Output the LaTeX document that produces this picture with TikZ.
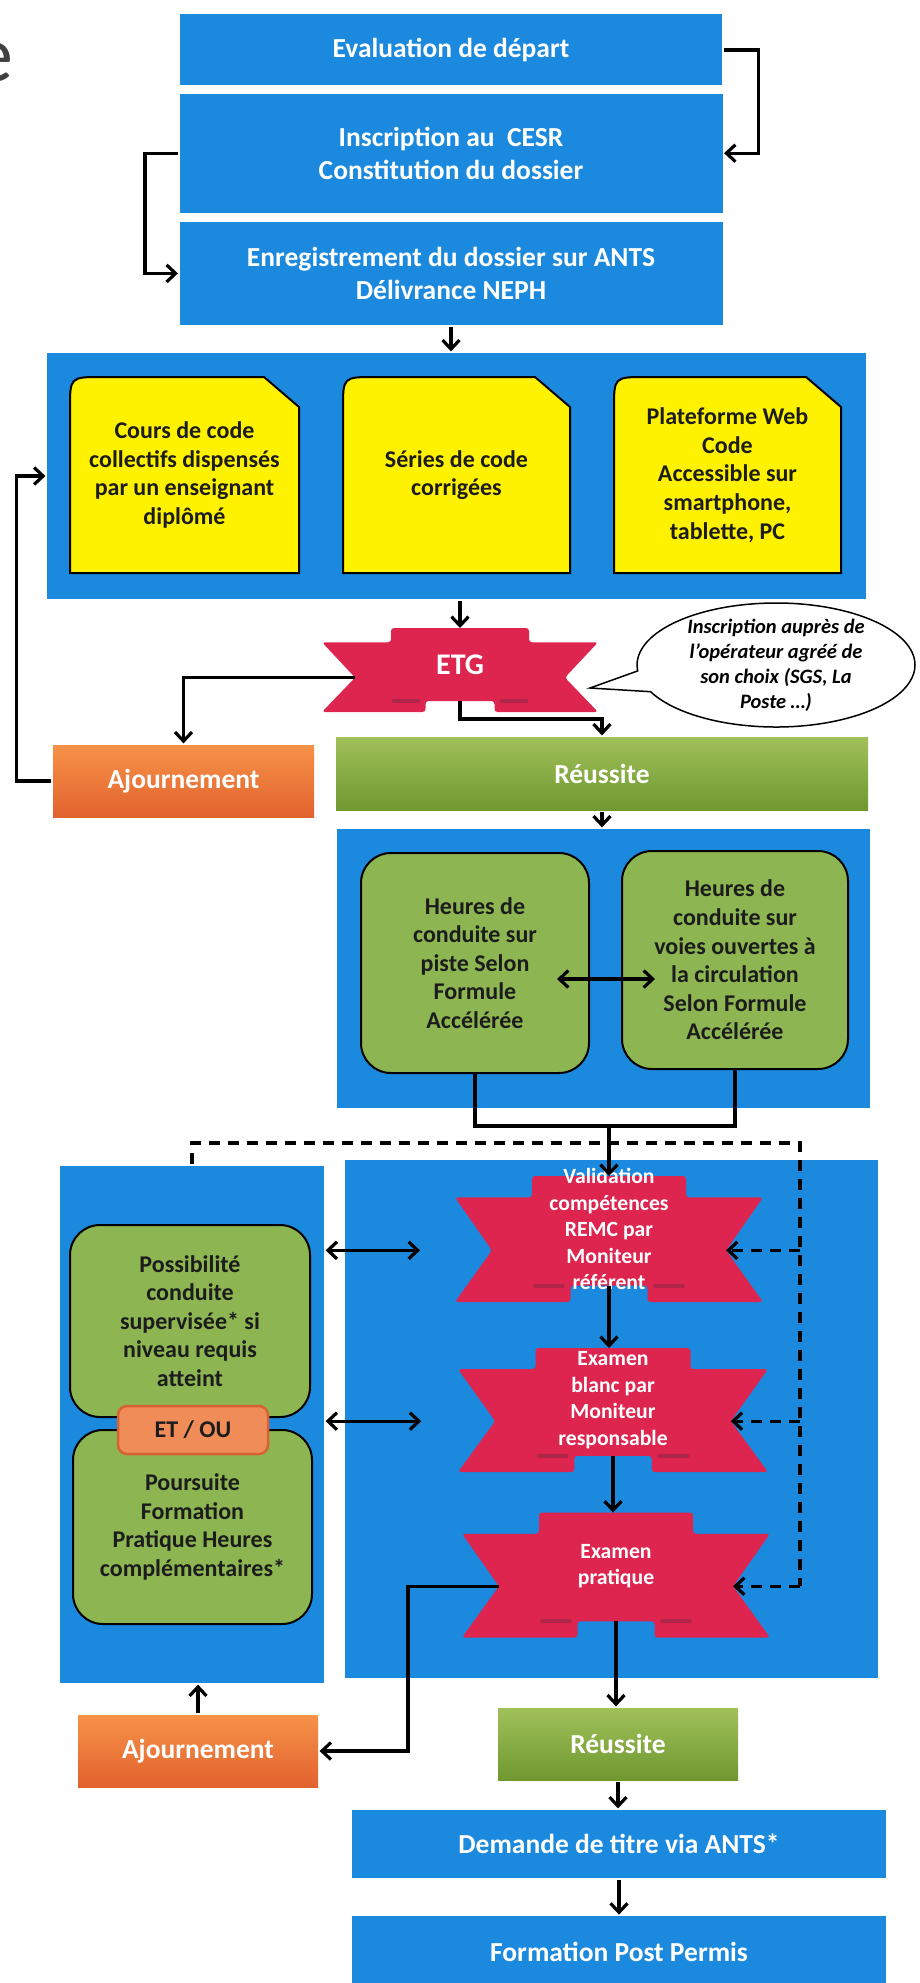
\documentclass[tikz,border=0pt]{standalone}
\usepackage{fontspec}
\setmainfont{Carlito}
\usetikzlibrary{positioning,arrows.meta,shapes.callouts}

\definecolor{boxblue}{RGB}{27,137,222}
\definecolor{codeyellow}{RGB}{255,242,0}
\definecolor{drivegreen}{RGB}{141,182,82}
\definecolor{okgreentop}{RGB}{160,192,90}
\definecolor{okgreenbot}{RGB}{112,152,48}
\definecolor{ajtop}{RGB}{246,146,72}
\definecolor{ajbot}{RGB}{226,98,46}
\definecolor{ribbonred}{RGB}{221,37,79}
\definecolor{foldred}{RGB}{176,38,72}
\definecolor{etoufill}{RGB}{240,140,88}
\definecolor{etouline}{RGB}{214,98,52}
\definecolor{inktext}{RGB}{28,28,28}

\tikzset{
  bluebox/.style={fill=boxblue, text=white, inner sep=0pt, align=center,
    font=\fontsize{27.5}{33.5}\selectfont\bfseries},
  panel/.style={fill=boxblue, inner sep=0pt},
  cardtext/.style={inner sep=0pt, align=center, text=inktext,
    font=\fontsize{24}{28.6}\selectfont\bfseries},
  greencard/.style={cardtext, fill=drivegreen, draw=black, line width=2pt, rounded corners=30pt},
  okbox/.style={top color=okgreentop, bottom color=okgreenbot, text=white, inner sep=0pt,
    font=\fontsize{27.5}{33}\selectfont\bfseries},
  adjbox/.style={top color=ajtop, bottom color=ajbot, text=white, inner sep=0pt,
    font=\fontsize{27.5}{33}\selectfont\bfseries},
  etou/.style={fill=etoufill, draw=etouline, line width=2.5pt, rounded corners=9pt, text=inktext,
    inner sep=0pt, font=\fontsize{24}{28}\selectfont\bfseries},
  ribtext/.style={text=white, align=center, inner sep=0pt,
    font=\fontsize{21.7}{26.5}\selectfont\bfseries},
  foldline/.style={foldred, line width=4pt, line cap=round},
  note/.style={ellipse callout, draw=black, fill=white, line width=1.5pt, inner sep=0pt,
    minimum width=278pt, minimum height=124pt, callout pointer arc=20},
  notetext/.style={align=center, inner sep=0pt, text=black,
    font=\fontsize{20.5}{25}\selectfont\bfseries\itshape},
  dashline/.style={line width=3.2pt, dash pattern=on 11pt off 8pt}
}

% yellow card: name, x, y, width, height, text
\newcommand{\yellowcard}[6]{%
  \filldraw[fill=codeyellow, draw=black, line width=2pt]
    ({#2-#4/2},{#3+#5/2}) -- ({#2+#4/2},{#3+#5/2}) -- ({#2+#4/2},{#3-#5/2+30})
    -- ({#2+#4/2-35},{#3-#5/2}) -- ({#2-#4/2+32},{#3-#5/2})
    .. controls ({#2-#4/2},{#3-#5/2}) .. ({#2-#4/2},{#3-#5/2+32}) -- cycle;
  \node[cardtext, minimum width=#4pt, minimum height=#5pt] (#1) at (#2,#3) {#6};}

% ribbon: name, x, y, width, height, text lift, text
\newcommand{\ribbon}[7]{%
  \begin{scope}[shift={(#2,#3)}, x=#4pt, y=-#5pt]
    \fill[ribbonred, rounded corners=3pt] (-0.25,-0.5) -- (0.25,-0.5) -- (0.25,-0.33) -- (0.5,-0.33)
      -- (0.38,0.09) -- (0.5,0.5) -- (0.125,0.5) -- (0.125,0.37) -- (-0.125,0.37) -- (-0.125,0.5)
      -- (-0.5,0.5) -- (-0.38,0.09) -- (-0.5,-0.33) -- (-0.25,-0.33) -- cycle;
    \draw[foldline] (-0.24,0.37) -- (-0.15,0.37) (0.15,0.37) -- (0.24,0.37);
    \coordinate (#1-n) at (0,-0.5);
    \coordinate (#1-s) at (0,0.37);
    \coordinate (#1-wn) at (-0.38,0.09);
    \coordinate (#1-en) at (0.38,0.09);
  \end{scope}
  \node[ribtext] (#1) at ([yshift=#6pt]#2,#3) {#7};}

\begin{document}
\begin{tikzpicture}[x=1pt, y=-1pt, line width=3.2pt, >={Straight Barb[length=9pt,width=17pt]}]
\useasboundingbox (0,0) rectangle (919,1983);

\node[anchor=east, inner sep=0pt, text=black!75, font=\fontsize{80}{90}\selectfont] (cut) at (15,62) {e};

% dossier
\node[bluebox, minimum width=542pt, minimum height=71pt] (eval) at (451,50) {Evaluation de départ};
\node[bluebox, minimum width=543pt, minimum height=119pt, below=5pt of eval] (inscr) {Inscription au\ \ CESR\\Constitution du dossier};
\node[bluebox, minimum width=543pt, minimum height=103pt, below=6pt of inscr] (enreg) {Enregistrement du dossier sur ANTS\\Délivrance NEPH};
\draw[->] (eval.east) -- ++(35,0) |- (inscr.east);
\draw[->] (inscr.west) -- ++(-33,0) |- (enreg.west);

% code
\node[panel, minimum width=819pt, minimum height=246pt] (code) at (456.5,476) {};
\yellowcard{cours}{184.5}{475}{229}{196}{Cours de code\\collectifs dispensés\\par un enseignant\\diplômé}
\yellowcard{series}{456.5}{475}{227}{196}{Séries de code\\corrigées}
\yellowcard{web}{727.5}{475}{227}{196}{Plateforme Web\\Code\\Accessible sur\\smartphone,\\tablette, PC}
\draw[->] (enreg.south) -- (enreg.south |- code.north);

\ribbon{etg}{460}{670}{276}{84}{5}{\fontsize{30}{35}\selectfont ETG}
\draw[->] (etg-n |- code.south) -- (etg-n);

\coordinate (tail) at (590,688);
\node[note, callout absolute pointer={(tail)}] (bubble) at (776,665) {};
\node[notetext] (bubble-txt) at (bubble.center) {Inscription auprès de\\l’opérateur agréé de\\son choix (SGS, La\\Poste …)};

\node[adjbox, minimum width=261pt, minimum height=72pt] (ajourn1) at (183.5,781) {Ajournement};
\node[okbox, minimum width=532pt, minimum height=73pt] (reuss1) at (602,773.5) {Réussite};
\draw[->] (etg-wn) -| (ajourn1.north);
\draw[->] (etg-s) -- ++(0,18) -| (reuss1.north);
\draw[->] (ajourn1.west) -- ++(-35,0) |- (code.west);

% conduite
\node[panel, minimum width=533pt, minimum height=279pt] (conduite) at (603.5,968.5) {};
\node[greencard, minimum width=228pt, minimum height=220pt] (piste) at (475,963) {Heures de\\conduite sur\\piste Selon\\Formule\\Accélérée};
\node[greencard, minimum width=226pt, minimum height=218pt] (voies) at (735,960) {Heures de\\conduite sur\\voies ouvertes à\\la circulation\\Selon Formule\\Accélérée};
\draw[<->, shorten <=-33pt, shorten >=-34pt] ([yshift=-16pt]piste.east) -- ([yshift=-16pt]piste.east -| voies.west);
\draw[->] (reuss1.south) -- (reuss1.south |- conduite.north);
\draw (piste.south) -- ++(0,52) coordinate (join) -| (voies.south);

% examens
\node[panel, minimum width=264pt, minimum height=517pt] (suite) at (192,1424.5) {};
\node[panel, minimum width=533pt, minimum height=518pt] (examens) at (611.5,1419) {};

\ribbon{valid}{609}{1239}{308}{126}{10}{Validation\\compétences\\REMC par\\Moniteur\\référent}
\ribbon{blanc}{613}{1410}{310}{124}{10}{Examen\\blanc par\\Moniteur\\responsable}
\ribbon{pratique}{616}{1575}{308}{125}{9}{Examen\\pratique}
\draw[->] (valid-n |- join) -- (valid-n);
\draw[->] (valid-s) -- (valid-s |- blanc-n);
\draw[->] (blanc-s) -- (blanc-s |- pratique-n);

\node[greencard, minimum width=240pt, minimum height=192pt] (possib) at (190,1321) {Possibilité\\conduite\\supervisée* si\\niveau requis\\atteint};
\node[greencard, minimum width=239pt, minimum height=194pt] (pours) at (192.5,1527) {Poursuite\\Formation\\Pratique Heures\\complémentaires*};
\node[etou, minimum width=150pt, minimum height=48pt] (etou) at (193,1430) {ET / OU};

\draw[<->, shorten >=72pt] (suite.east |- valid-wn) -- (valid-wn);
\draw[<->, shorten >=74pt] (suite.east |- blanc-wn) -- (blanc-wn);

\coordinate (dcorner) at (800,1143);
\draw[dashline] (suite.north) |- (dcorner) -- (dcorner |- pratique-en);
\draw[dashline, ->] (dcorner |- valid-en) -- (valid-en);
\draw[dashline, ->] (dcorner |- blanc-en) -- (blanc-en);
\draw[dashline, ->] (dcorner |- pratique-en) -- (pratique-en);

% resultat
\node[adjbox, minimum width=240pt, minimum height=72pt] (ajourn2) at (198,1751) {Ajournement};
\draw[->] (ajourn2.north) -- (ajourn2.north |- suite.south);
\draw[->] (pratique-wn) -- ++(-91,0) |- (ajourn2.east);
\node[okbox, minimum width=240pt, minimum height=72pt] (reuss2) at (618,1744) {Réussite};
\draw[->] (pratique-s) -- (pratique-s |- reuss2.north);
\node[bluebox, minimum width=534pt, minimum height=68pt] (demande) at (619,1844) {Demande de titre via ANTS*};
\node[bluebox, minimum width=534pt, minimum height=72pt, below=35pt of demande] (postp) {Formation Post Permis};
\draw[->] (reuss2.south) -- (reuss2.south |- demande.north);
\draw[->] (demande.south) -- (demande.south |- postp.north);
\end{tikzpicture}
\end{document}
